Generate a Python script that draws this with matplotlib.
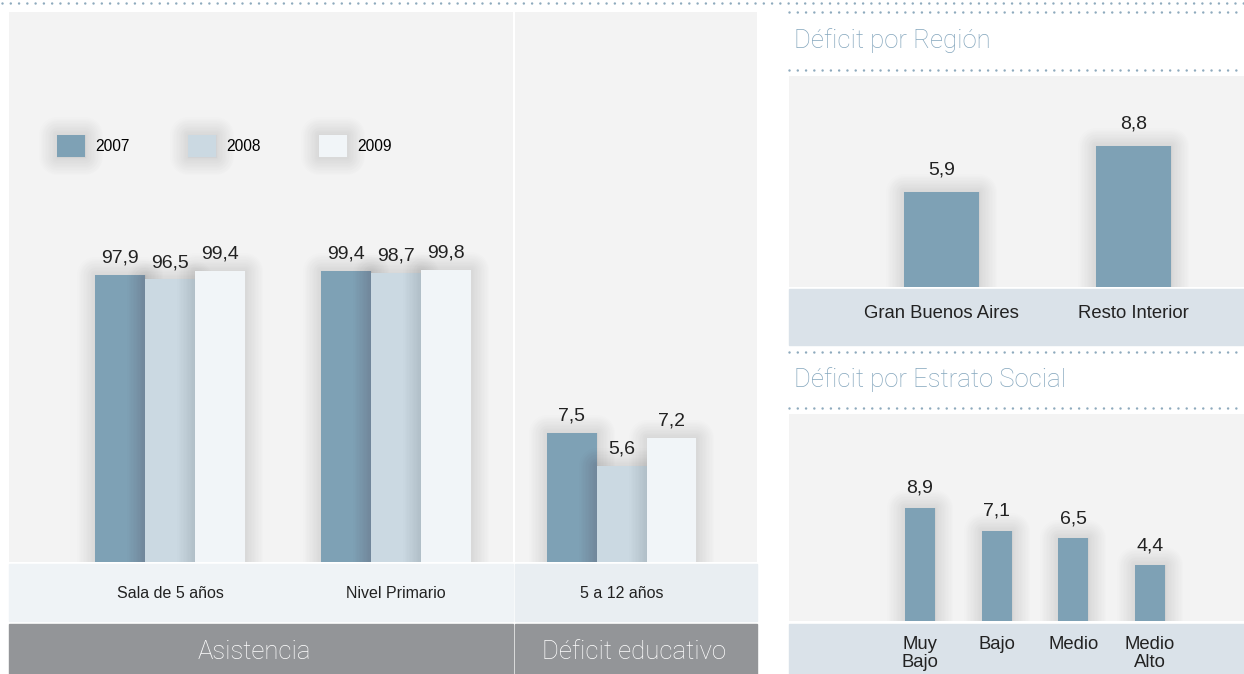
import matplotlib.pyplot as plt
from matplotlib.patches import Rectangle
from matplotlib.lines import Line2D
import matplotlib.patheffects as pe

# data
years = ['2007', '2008', '2009']
asistencia_cats = ['Sala de 5 años', 'Nivel Primario']
asistencia_2007 = [97.9, 99.4]
asistencia_2008 = [96.5, 98.7]
asistencia_2009 = [99.4, 99.8]
deficit_cats = ['5 a 12 años']
deficit_2007 = [7.5]
deficit_2008 = [5.6]
deficit_2009 = [7.2]
region_cats = ['Gran Buenos Aires', 'Resto Interior']
region_vals = [5.9, 8.8]
estrato_cats = ['Muy\nBajo', 'Bajo', 'Medio', 'Medio\nAlto']
estrato_vals = [8.9, 7.1, 6.5, 4.4]

year_colors = ['#7ea1b5', '#cbd9e2', '#f1f5f8']
panel_bg = '#f3f3f3'
title_blue = '#84a6bd'
dot_color = '#8eaabd'
txt = '#222222'

plt.rcParams['font.family'] = ['Liberation Sans', 'DejaVu Sans']

W, H = 1244, 674
fig = plt.figure(figsize=(W / 100, H / 100), dpi=100)


def px_axes(x0, y0, x1, y1):
    return fig.add_axes([x0 / W, 1 - y1 / H, (x1 - x0) / W, (y1 - y0) / H])


def px_rect(x0, y0, x1, y1, color):
    fig.add_artist(Rectangle((x0 / W, 1 - y1 / H), (x1 - x0) / W, (y1 - y0) / H,
                             transform=fig.transFigure, color=color, zorder=-1))


def dots(x0, x1, y):
    fig.add_artist(Line2D([x0 / W, x1 / W], [1 - y / H] * 2, transform=fig.transFigure,
                          color=dot_color, lw=1.8, dashes=(0.01, 3.3),
                          dash_capstyle='round'))


# soft rounded shadow around bars
shadow = [pe.Stroke(linewidth=lw, foreground='black', alpha=0.009, joinstyle='round')
          for lw in range(26, 0, -2)] + [pe.Normal()]


def fmt(v):
    return f'{v:.1f}'.replace('.', ',')


def clean(ax):
    ax.set_facecolor(panel_bg)
    for s in ax.spines.values():
        s.set_visible(False)
    ax.set_yticks([])
    ax.tick_params(axis='x', length=0)


# background bands
px_rect(9, 564, 513, 621, '#eff3f6')
px_rect(515, 564, 757, 621, '#e9eef2')
px_rect(9, 624, 513, 674, '#939598')
px_rect(515, 624, 757, 674, '#939598')
px_rect(789, 289, 1244, 345, '#dae2e9')
px_rect(789, 624, 1244, 674, '#dae2e9')

# dotted rules
dots(2, 1244, 3)
dots(789, 1244, 12)
dots(789, 1244, 70)
dots(789, 1244, 352)
dots(789, 1244, 408)

w = 0.222
offsets = [-w, 0, w]

# Asistencia
ax1 = px_axes(9, 12, 513, 562)
clean(ax1)
for vals, c, off, yr in zip([asistencia_2007, asistencia_2008, asistencia_2009],
                            year_colors, offsets, years):
    bars = ax1.bar([i + off for i in range(len(asistencia_cats))], vals, w,
                   color=c, label=yr, path_effects=shadow)
    ax1.bar_label(bars, labels=[fmt(v) for v in vals], padding=6,
                  fontsize=14, color=txt)
ax1.set_xlim(-0.716, 1.52)
ax1.set_ylim(0, 187.8)
ax1.set_xticks(range(len(asistencia_cats)))
ax1.set_xticklabels(asistencia_cats, fontsize=11.5, color=txt)
ax1.tick_params(axis='x', pad=17)
ax1.legend(loc='upper left', bbox_to_anchor=(0.095, 0.776), ncol=3, frameon=False,
           fontsize=11.2, handlelength=1.8, handleheight=1.8, handletextpad=0.65,
           columnspacing=3.75, borderpad=0, borderaxespad=0)

# Deficit educativo
ax2 = px_axes(515, 12, 757, 562)
clean(ax2)
for vals, c, off in zip([deficit_2007, deficit_2008, deficit_2009], year_colors, offsets):
    bars = ax2.bar([i + off for i in range(len(deficit_cats))], vals, w,
                   color=c, path_effects=shadow)
    ax2.bar_label(bars, labels=[fmt(v) for v in vals], padding=6,
                  fontsize=14, color=txt)
ax2.set_xlim(-0.476, 0.604)
ax2.set_ylim(0, 32.0)
ax2.set_xticks(range(len(deficit_cats)))
ax2.set_xticklabels(deficit_cats, fontsize=11.5, color=txt)
ax2.tick_params(axis='x', pad=17)

# section titles
light = dict(family=['Roboto', 'DejaVu Sans'], weight='light', fontsize=18.5, va='center')
fig.text(254 / W, 1 - 652 / H, 'Asistencia', color='white', ha='center', **light)
fig.text(634 / W, 1 - 652 / H, 'Déficit educativo', color='white', ha='center', **light)
fig.text(794 / W, 1 - 41 / H, 'Déficit por Región', color=title_blue, ha='left', **light)
fig.text(794 / W, 1 - 380 / H, 'Déficit por Estrato Social', color=title_blue,
         ha='left', **light)

# Deficit por Region
ax3 = px_axes(789, 76, 1244, 287)
clean(ax3)
bars = ax3.bar(range(len(region_cats)), region_vals, 0.39, color=year_colors[0],
               path_effects=shadow)
ax3.bar_label(bars, labels=[fmt(v) for v in region_vals], padding=10,
              fontsize=14, color=txt)
ax3.set_xlim(-0.794, 1.576)
ax3.set_ylim(0, 13.17)
ax3.set_xticks(range(len(region_cats)))
ax3.set_xticklabels(region_cats, fontsize=13.3, color=txt)
ax3.tick_params(axis='x', pad=13)

# Deficit por Estrato Social
ax4 = px_axes(789, 414, 1244, 621)
clean(ax4)
bars = ax4.bar(range(len(estrato_cats)), estrato_vals, 0.39, color=year_colors[0],
               path_effects=shadow)
ax4.bar_label(bars, labels=[fmt(v) for v in estrato_vals], padding=8,
              fontsize=14, color=txt)
ax4.set_xlim(-1.708, 4.226)
ax4.set_ylim(0, 16.3)
ax4.set_xticks(range(len(estrato_cats)))
ax4.set_xticklabels(estrato_cats, fontsize=13.3, color=txt, linespacing=1.05)
ax4.tick_params(axis='x', pad=11)

fig.savefig('out.png', dpi=100)
